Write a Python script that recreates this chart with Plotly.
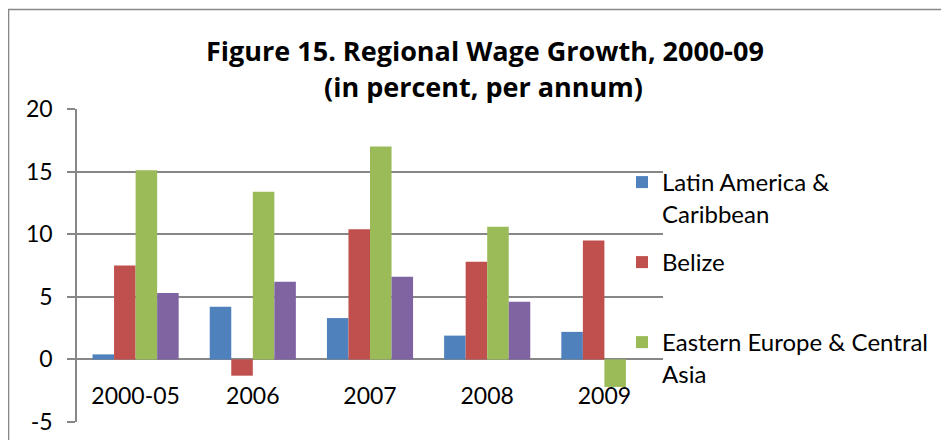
import plotly.graph_objects as go

categories = ["2000-05", "2006", "2007", "2008", "2009"]
latin_america = [0.4, 4.2, 3.3, 1.9, 2.2]
belize = [7.5, -1.3, 10.4, 7.8, 9.5]
eastern_europe = [15.1, 13.4, 17.0, 10.6, -2.2]
fourth_region = [5.3, 6.2, 6.6, 4.6, None]

series_names = ["Latin America &<br>Caribbean", "Belize", "Eastern Europe & Central<br>Asia", "Other"]
colors = ["#4F81BD", "#C0504D", "#9BBB59", "#8064A2"]

y_tick_values = [-5, 0, 5, 10, 15, 20]
y_tick_labels = ["-5", "0", "5", "10", "15", "20"]

# page is drawn with an 8px body offset; layout numbers below are window pixels
OFF = 8
W, H = 949, 440
plot_left, plot_right, plot_top, plot_bottom = 77, 663, 109, 422
L = plot_left - OFF
R = W - (plot_right - OFF)
T = plot_top - OFF
B = H - (plot_bottom - OFF)
PW, PH = W - L - R, H - T - B


def px_x(px):
    return (px - plot_left) / PW


def px_y(py):
    return (plot_bottom - py) / PH


FONT = "Lato, Carlito, Calibri, sans-serif"
TITLE_FONT = "Open Sans, sans-serif"
FS = 23
GRID = "#878787"

y_min, y_max = y_tick_values[0], y_tick_values[-1]

fig = go.Figure()
data = [latin_america, belize, eastern_europe, fourth_region]
legends = ["legend", "legend2", "legend3", None]
for i, (vals, name, col) in enumerate(zip(data, series_names, colors)):
    kw = {}
    if legends[i]:
        kw["legend"] = legends[i]
    fig.add_trace(go.Bar(
        x=categories, y=vals, name=name,
        marker=dict(color=col, line=dict(width=0)),
        showlegend=legends[i] is not None,
        **kw,
    ))

legend_common = dict(
    font=dict(family=FONT, size=24, color="#000000"),
    bgcolor="rgba(0,0,0,0)", borderwidth=0,
    xanchor="left", yanchor="top", valign="top",
    itemwidth=30, tracegroupgap=0,
)
legend_tops = [160, 240, 320]
legend_left = 622

fig.update_layout(
    width=W, height=H,
    margin=dict(l=L, r=R, t=T, b=B, pad=0, autoexpand=False),
    paper_bgcolor="white", plot_bgcolor="white",
    barmode="group", bargap=0.265, bargroupgap=0,
    font=dict(family=FONT, size=FS, color="#000000"),
    legend=dict(x=px_x(legend_left), y=px_y(legend_tops[0]), **legend_common),
    legend2=dict(x=px_x(legend_left), y=px_y(legend_tops[1]), **legend_common),
    legend3=dict(x=px_x(legend_left), y=px_y(legend_tops[2]), **legend_common),
    xaxis=dict(
        type="category", showgrid=False, showline=False, zeroline=False,
        ticks="", anchor="free", automargin=False,
        position=(0 - y_min) / (y_max - y_min),
        ticklabelstandoff=21,
        tickfont=dict(family=FONT, size=FS, color="#000000"),
    ),
    yaxis=dict(
        range=[y_min, y_max], tickmode="array",
        tickvals=y_tick_values, ticktext=y_tick_labels, automargin=False,
        showgrid=True, gridcolor=GRID, gridwidth=1.6,
        zeroline=True, zerolinecolor=GRID, zerolinewidth=1.6,
        showline=True, linecolor=GRID, linewidth=1.6,
        ticks="outside", ticklen=8, tickcolor=GRID, tickwidth=1.6,
        ticklabelstandoff=10,
        tickfont=dict(family=FONT, size=FS, color="#000000"),
    ),
    shapes=[dict(
        type="rect", xref="paper", yref="paper",
        x0=px_x(8.5), x1=px_x(1000), y0=px_y(9.5), y1=px_y(500),
        line=dict(color=GRID, width=1.6), fillcolor="rgba(0,0,0,0)", layer="below",
    )],
    annotations=[
        dict(text="<b>Figure 15. Regional Wage Growth, 2000-09</b>", xref="paper", yref="paper",
             x=px_x(485), y=px_y(50), xanchor="center", yanchor="middle", showarrow=False,
             font=dict(family=TITLE_FONT, size=27, color="#000000")),
        dict(text="<b>(in percent, per annum)</b>", xref="paper", yref="paper",
             x=px_x(483), y=px_y(86), xanchor="center", yanchor="middle", showarrow=False,
             font=dict(family=TITLE_FONT, size=27, color="#000000")),
    ],
)

fig.write_html("out.html")
